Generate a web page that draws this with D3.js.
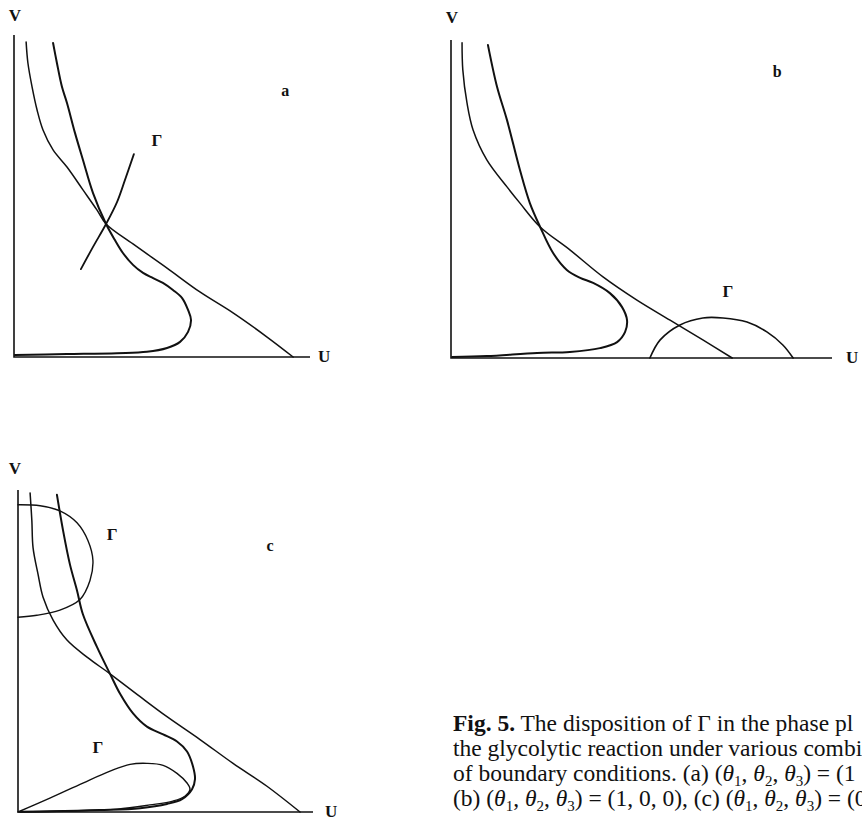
<!DOCTYPE html>
<html>
<head>
<meta charset="utf-8">
<script src="https://cdn.jsdelivr.net/npm/d3@7/dist/d3.min.js"></script>
<style>
  html, body { margin: 0; padding: 0; background: #fff; }
  svg { display: block; }
  .lbl { font-family: "Liberation Serif", "Times New Roman", serif; font-weight: bold; fill: #111; }
  .cap { font-family: "Liberation Serif", "Times New Roman", serif; fill: #111; }
</style>
</head>
<body>
<svg id="fig" width="862" height="820"></svg>
<script>
// Phase-plane sketches (U, V), coordinates normalised to the axis box [0,1] x [0,1].

// Panel a
const aHyper = [[0.041,0.978],[0.047,0.913],[0.061,0.839],[0.078,0.767],[0.098,0.705],[0.132,0.643],[0.179,0.590],[0.233,0.519],[0.280,0.457],[0.311,0.413],[0.402,0.351],[0.517,0.276],[0.628,0.202],[0.740,0.137],[0.855,0.062],[0.943,0]];
const aNose = [[0.132,0.975],[0.145,0.913],[0.162,0.839],[0.179,0.789],[0.206,0.696],[0.233,0.612],[0.267,0.509],[0.311,0.413],[0.341,0.363],[0.368,0.323],[0.402,0.286],[0.436,0.261],[0.470,0.245],[0.503,0.230],[0.537,0.208],[0.568,0.183],[0.588,0.146],[0.598,0.115],[0.588,0.078],[0.561,0.047],[0.517,0.028],[0.449,0.016],[0.348,0.012],[0.179,0.009],[0.003,0.006]];
const aGamma = [[0.226,0.273],[0.267,0.342],[0.311,0.413],[0.348,0.481],[0.375,0.550],[0.405,0.630]];

// Panel b
const bHyper = [[0.029,0.991],[0.031,0.906],[0.042,0.802],[0.058,0.717],[0.094,0.623],[0.147,0.538],[0.181,0.487],[0.234,0.412],[0.312,0.340],[0.399,0.255],[0.488,0.182],[0.575,0.119],[0.661,0.057],[0.738,0]];
const bNose = [[0.097,0.984],[0.121,0.852],[0.147,0.748],[0.181,0.591],[0.207,0.487],[0.234,0.412],[0.268,0.330],[0.304,0.277],[0.339,0.252],[0.373,0.236],[0.417,0.204],[0.449,0.160],[0.462,0.119],[0.457,0.082],[0.436,0.050],[0.391,0.031],[0.312,0.019],[0.226,0.016],[0.094,0.006],[0.003,0.003]];
const bGamma = [[0.522,0],[0.549,0.057],[0.601,0.104],[0.661,0.126],[0.714,0.126],[0.777,0.113],[0.829,0.082],[0.871,0.041],[0.898,0]];

// Panel c
const cHyper = [[0.041,0.991],[0.047,0.904],[0.051,0.821],[0.068,0.738],[0.085,0.667],[0.119,0.596],[0.166,0.534],[0.234,0.481],[0.312,0.429],[0.414,0.358],[0.505,0.296],[0.617,0.225],[0.729,0.151],[0.844,0.080],[0.956,0]];
const cNose = [[0.132,0.985],[0.153,0.873],[0.176,0.769],[0.200,0.688],[0.220,0.614],[0.268,0.512],[0.312,0.429],[0.346,0.367],[0.390,0.306],[0.437,0.265],[0.492,0.241],[0.539,0.219],[0.573,0.188],[0.593,0.142],[0.600,0.102],[0.590,0.071],[0.556,0.040],[0.505,0.025],[0.414,0.012],[0.278,0.006],[0.108,0.002],[0.007,0.001]];
const cGammaUpper = [[0,0.954],[0.075,0.951],[0.142,0.935],[0.200,0.898],[0.237,0.843],[0.254,0.781],[0.244,0.719],[0.210,0.660],[0.142,0.627],[0.064,0.611],[0,0.605]];
const cGammaLower = [[0,0],[0.108,0.043],[0.220,0.090],[0.312,0.127],[0.380,0.148],[0.437,0.151],[0.492,0.145],[0.539,0.120],[0.573,0.090],[0.583,0.071],[0.566,0.049],[0.525,0.034],[0.447,0.022],[0.336,0.009],[0.166,0.003],[0,0]];

// Text labels placed in the same normalised coordinates
const aLabels = [{t:"Γ", p:[0.483,0.668]}, {t:"a", p:[0.916,0.823]}];
const bLabels = [{t:"Γ", p:[0.727,0.204]}, {t:"b", p:[0.856,0.896]}];
const cLabels = [{t:"Γ", p:[0.319,0.858]}, {t:"c", p:[0.854,0.821]}, {t:"Γ", p:[0.271,0.194]}];

const captionLines = [
  [{t:"Fig. 5.", b:true}, {t:" The disposition of Γ in the phase pl"}],
  [{t:"the glycolytic reaction under various combi"}],
  [{t:"of boundary conditions. (a) ("}, {th:"1"}, {t:", "}, {th:"2"}, {t:", "}, {th:"3"}, {t:") = (1"}],
  [{t:"(b) ("}, {th:"1"}, {t:", "}, {th:"2"}, {t:", "}, {th:"3"}, {t:") = (1, 0, 0), (c) ("}, {th:"1"}, {t:", "}, {th:"2"}, {t:", "}, {th:"3"}, {t:") = (0"}]
];

const svg = d3.select("#fig");

function panel(box, curves, labels) {
  const x = d3.scaleLinear().domain([0, 1]).range([box.left, box.right]);
  const y = d3.scaleLinear().domain([0, 1]).range([box.bottom, box.top]);
  const g = svg.append("g");

  // L-shaped axes
  g.append("path")
    .attr("d", `M${x(0)},${y(1)}V${y(0)}H${x(1)}`)
    .attr("fill", "none").attr("stroke", "#111").attr("stroke-width", 1.6);

  const line = d3.line().x(d => x(d[0])).y(d => y(d[1])).curve(d3.curveCatmullRom.alpha(0.5));
  curves.forEach(c => {
    g.append("path").datum(c.data)
      .attr("d", line)
      .attr("fill", "none").attr("stroke", "#111")
      .attr("stroke-width", c.w).attr("stroke-linejoin", "round").attr("stroke-linecap", "round");
  });

  g.append("text").attr("class", "lbl").attr("font-size", 17)
    .attr("x", x(0) + box.vdx).attr("y", y(1) - box.vdy).attr("text-anchor", "middle").text("V");
  g.append("text").attr("class", "lbl").attr("font-size", 17)
    .attr("x", x(1) + box.udx).attr("y", y(0) + 5).text("U");

  labels.forEach(l => {
    g.append("text").attr("class", "lbl").attr("font-size", l.t === "Γ" ? 17 : 16)
      .attr("x", x(l.p[0])).attr("y", y(l.p[1]))
      .attr("text-anchor", "middle").attr("dominant-baseline", "middle")
      .text(l.t);
  });
}

panel({left: 14, right: 310, bottom: 357, top: 35, vdx: 1, vdy: 14, udx: 8},
  [{data: aHyper, w: 1.5}, {data: aNose, w: 2}, {data: aGamma, w: 1.8}], aLabels);
panel({left: 451, right: 832, bottom: 358, top: 40, vdx: 1, vdy: 17, udx: 14},
  [{data: bHyper, w: 1.5}, {data: bNose, w: 2}, {data: bGamma, w: 1.6}], bLabels);
panel({left: 18, right: 313, bottom: 812, top: 490, vdx: -3, vdy: 16, udx: 12},
  [{data: cHyper, w: 1.5}, {data: cNose, w: 2}, {data: cGammaUpper, w: 1.4}, {data: cGammaLower, w: 1.4}], cLabels);

// Caption, with θ subscripts lowered and the baseline restored afterwards
const cap = svg.append("g");
const capX = 453, capY0 = 731, capDy = 25, subDy = 5;
captionLines.forEach((parts, i) => {
  const t = cap.append("text").attr("class", "cap").attr("font-size", 23.5)
    .attr("x", capX).attr("y", capY0 + i * capDy);
  let lowered = false;
  parts.forEach(p => {
    if (p.th) {
      t.append("tspan").attr("font-style", "italic")
        .attr("dy", lowered ? -subDy : null).text("θ");
      t.append("tspan").attr("font-size", 15).attr("dy", subDy).text(p.th);
      lowered = true;
    } else {
      t.append("tspan").attr("font-weight", p.b ? "bold" : null)
        .attr("dy", lowered ? -subDy : null).text(p.t);
      lowered = false;
    }
  });
});
</script>
</body>
</html>
